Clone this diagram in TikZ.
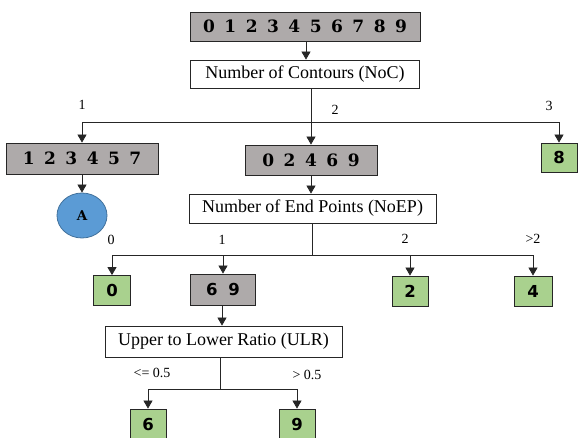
\documentclass[tikz,border=0pt]{standalone}
\usepackage{fontspec}
\setmainfont{Liberation Serif}
\newfontfamily\digserif{DejaVu Serif}
\newfontfamily\digsans{DejaVu Sans}
\usetikzlibrary{arrows.meta,shapes.geometric}
\definecolor{boxgray}{HTML}{AEAAAA}
\definecolor{leafgreen}{HTML}{A9D18E}
\definecolor{circblue}{HTML}{5B9BD5}
\definecolor{circedge}{HTML}{41719C}
\definecolor{linecol}{HTML}{262626}
\newcommand\dg{\hspace{9.5pt}}
\tikzset{
  base/.style={draw=linecol, line width=0.8pt, inner sep=0pt, anchor=center},
  textbox/.style={base, fill=white, font=\fontsize{18}{20}\selectfont},
  graybox/.style={base, fill=boxgray, font=\digserif\bfseries\fontsize{17}{19}\selectfont},
  grayboxsans/.style={base, fill=boxgray, font=\digsans\bfseries\fontsize{16.5}{18}\selectfont},
  greenbox/.style={base, fill=leafgreen, minimum width=37pt, minimum height=30pt, font=\digsans\bfseries\fontsize{16.5}{18}\selectfont},
  lbl/.style={inner sep=0pt, font=\fontsize{14}{16}\selectfont},
  conn/.style={draw=linecol, line width=0.8pt},
  arr/.style={conn, -{Triangle[length=8pt,width=9pt]}},
}
\begin{document}
\begin{tikzpicture}[x=1pt,y=-1pt]
\useasboundingbox[fill=white] (0,0) rectangle (579,438);
\begin{scope}
\clip (0,0) rectangle (579,438);
% nodes
\node[graybox, minimum width=230pt, minimum height=29pt] (top) at (305,26.5) {0\dg1\dg2\dg3\dg4\dg5\dg6\dg7\dg8\dg9};
\node[textbox, minimum width=229pt, minimum height=28pt] (noc) at (305,74) {Number of Contours (NoC)};
\node[graybox, minimum width=152pt, minimum height=31pt] (n123457) at (82,158.5) {1\dg2\dg3\dg4\dg5\dg7};
\node[graybox, minimum width=132pt, minimum height=30pt] (n02469) at (311,160) {0\dg2\dg4\dg6\dg9};
\node[greenbox, minimum width=36pt, minimum height=29pt] (n8) at (559,157.5) {8};
\node[base, ellipse, draw=circedge, fill=circblue, minimum width=50pt, minimum height=45pt, font=\digserif\bfseries\fontsize{13.5}{15}\selectfont] (A) at (82,215.5) {A};
\node[textbox, minimum width=247pt, minimum height=29pt] (noep) at (312.5,208.5) {Number of End Points (NoEP)};
\node[greenbox] (n0) at (112,290.5) {0};
\node[grayboxsans, minimum width=65pt, minimum height=31pt] (n69) at (223,289.5) {6\hspace{11pt}9};
\node[greenbox, minimum width=36pt] (n2) at (410,291) {2};
\node[greenbox, minimum width=38pt] (n4) at (533,291) {4};
\node[textbox, minimum width=237pt, minimum height=31pt] (ulr) at (223.5,341.5) {Upper to Lower Ratio (ULR)};
\node[greenbox, minimum width=36pt, minimum height=31pt] (n6) at (148,424.5) {6};
\node[greenbox, minimum width=36pt, minimum height=31pt] (n9) at (297,424.5) {9};
% junctions
\coordinate (j1) at (311,122);
\coordinate (j2) at (312,255);
\coordinate (j3) at (220,389);
% connectors
\draw[arr] (top.south -| 306,0) -- (noc.north -| 306,0);
\draw[conn] (noc.south -| j1) -- (j1);
\draw[arr] (j1) -| (n123457);
\draw[arr] (j1) -- (n02469);
\draw[arr] (j1) -| (n8);
\draw[arr] (n123457) -- (A);
\draw[arr] (n02469) -- (noep.north -| n02469);
\draw[conn] (noep.south -| j2) -- (j2);
\draw[arr] (j2) -| (n0);
\draw[arr] (j2) -| (n69);
\draw[arr] (j2) -| (n2);
\draw[arr] (j2) -| (n4);
\draw[arr] (n69.south -| 222,0) -- (ulr.north -| 222,0);
\draw[conn] (ulr.south -| j3) -- (j3);
\draw[arr] (j3) -| (n6);
\draw[arr] (j3) -| (n9);
% labels
\node[lbl] (l1) at (82,105) {1};
\node[lbl] (l2) at (335,110) {2};
\node[lbl] (l3) at (549,106) {3};
\node[lbl] (m0) at (111,240) {0};
\node[lbl] (m1) at (222,240) {1};
\node[lbl] (m2) at (405,239) {2};
\node[lbl] (m3) at (533,239) {>2};
\node[lbl] (r1) at (152,373) {<= 0.5};
\node[lbl] (r2) at (307,375) {> 0.5};
\end{scope}
\end{tikzpicture}
\end{document}
